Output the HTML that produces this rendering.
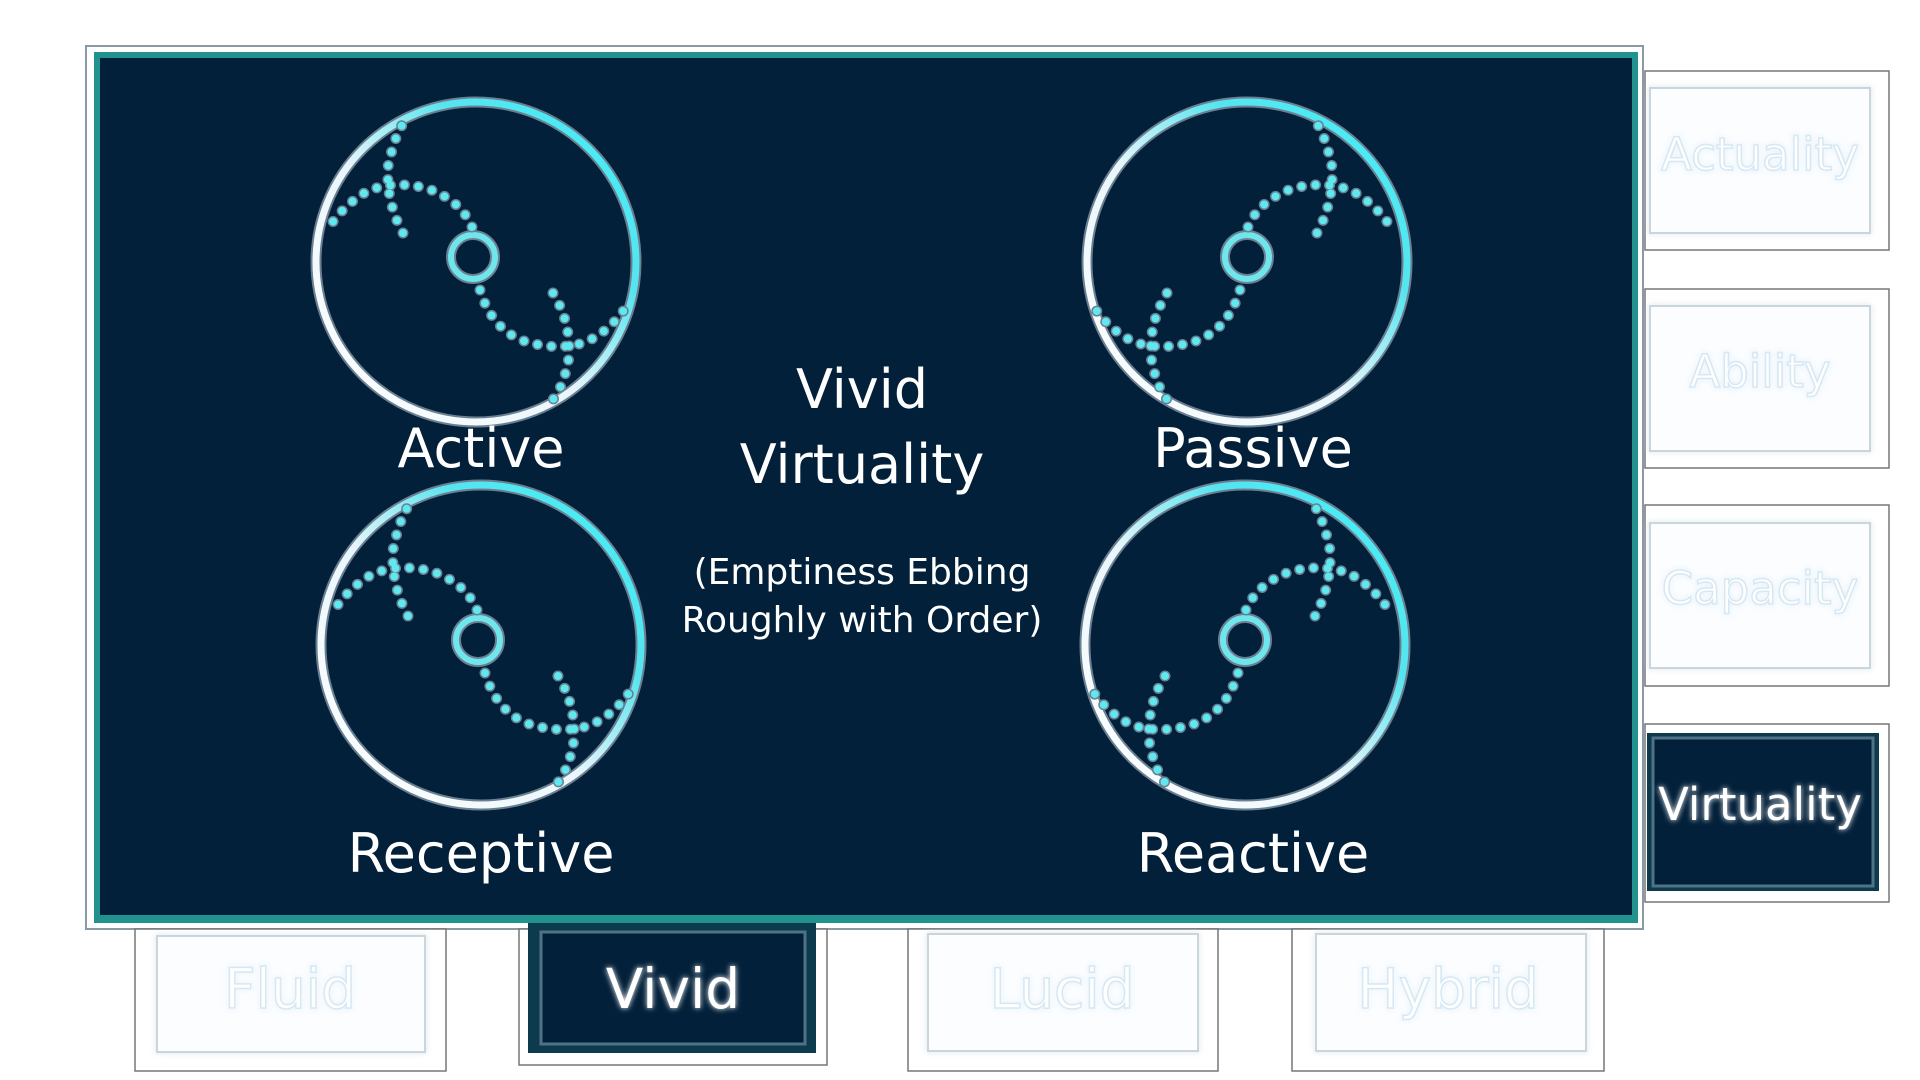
<!DOCTYPE html>
<html><head><meta charset="utf-8"><style>
html,body{margin:0;padding:0;background:#fff;width:1920px;height:1080px;overflow:hidden}
svg{display:block}
text{font-family:"DejaVu Sans","Liberation Sans",sans-serif}
</style></head><body>
<svg width="1920" height="1080" viewBox="0 0 1920 1080" xmlns="http://www.w3.org/2000/svg">
<defs>
<linearGradient id="rg" x1="0" y1="1" x2="1" y2="0">
<stop offset="0" stop-color="#ffffff"/><stop offset="0.45" stop-color="#e8f6fb"/><stop offset="0.7" stop-color="#57e4ef"/><stop offset="1" stop-color="#40f0f8"/>
</linearGradient>
<filter id="glow" x="-20%" y="-20%" width="140%" height="140%"><feGaussianBlur stdDeviation="3" result="b"/><feMerge><feMergeNode in="b"/><feMergeNode in="SourceGraphic"/></feMerge></filter>
<g id="ring">
<circle r="160" fill="none" stroke="#6b7f90" stroke-width="11"/>
<circle r="160" fill="none" stroke="url(#rg)" stroke-width="7"/>
</g>
<g id="dots">
<circle cx="-3" cy="-5" r="22" fill="none" stroke="#6b7f90" stroke-width="10"/>
<circle cx="-3" cy="-5" r="22" fill="none" stroke="#6fe6ec" stroke-width="6"/>
<g fill="none" stroke-linecap="round" stroke-dasharray="0 14">
<g stroke="#6b7f90" stroke-width="11">
<path d="M-4,-35 Q-15,-62 -50,-74 Q-85,-82 -110,-70 Q-135,-55 -150,-30"/>
<path d="M-73,-29 Q-90,-60 -88,-95 Q-82,-125 -72,-140"/>
<path d="M4,28 Q15,65 45,78 Q80,90 110,80 Q135,68 150,45"/>
<path d="M77,31 Q95,60 93,95 Q88,125 75,140"/>
</g>
<g stroke="#5ee8f0" stroke-width="8">
<path d="M-4,-35 Q-15,-62 -50,-74 Q-85,-82 -110,-70 Q-135,-55 -150,-30"/>
<path d="M-73,-29 Q-90,-60 -88,-95 Q-82,-125 -72,-140"/>
<path d="M4,28 Q15,65 45,78 Q80,90 110,80 Q135,68 150,45"/>
<path d="M77,31 Q95,60 93,95 Q88,125 75,140"/>
</g>
</g>
</g>
</defs>

<!-- main panel -->
<rect x="86" y="46" width="1557" height="883" fill="#fff" stroke="#8a9aa4" stroke-width="2"/>
<rect x="94" y="52" width="1544" height="871" fill="#22928e"/>
<rect x="100" y="58" width="1532" height="857" fill="#02203a"/>

<use href="#ring" transform="translate(476,262)"/>
<use href="#dots" transform="translate(476,262)"/>
<use href="#ring" transform="translate(1247,262)"/>
<use href="#dots" transform="translate(1244,262) scale(-1,1)"/>
<use href="#ring" transform="translate(481,645)"/>
<use href="#dots" transform="translate(481,645)"/>
<use href="#ring" transform="translate(1245,645)"/>
<use href="#dots" transform="translate(1242,645) scale(-1,1)"/>

<g fill="#fff" text-anchor="middle" font-size="54">
<text x="481" y="467">Active</text>
<text x="1253" y="467">Passive</text>
<text x="481" y="872">Receptive</text>
<text x="1253" y="872">Reactive</text>
<text x="862" y="408">Vivid</text>
<text x="862" y="483">Virtuality</text>
<text x="862" y="584" font-size="36">(Emptiness Ebbing</text>
<text x="862" y="632" font-size="36">Roughly with Order)</text>
</g>

<!-- right tabs -->
<g stroke="#777" stroke-width="1.5" fill="#fff">
<rect x="1645" y="71" width="244" height="179"/>
<rect x="1645" y="289" width="244" height="179"/>
<rect x="1645" y="505" width="244" height="181"/>
<rect x="1645" y="724" width="244" height="178"/>
</g>
<g fill="#fbfdff" stroke="#c9d6de" stroke-width="2" filter="url(#glow)">
<rect x="1650" y="88" width="220" height="145"/>
<rect x="1650" y="306" width="220" height="145"/>
<rect x="1650" y="523" width="220" height="145"/>
</g>
<rect x="1647" y="733" width="232" height="158" fill="#0e3a4e"/>
<rect x="1653" y="738" width="220" height="148" fill="#02203a" stroke="#4f7385" stroke-width="3"/>
<g text-anchor="middle" font-size="45" fill="#fff" stroke="#d6e8f4" stroke-width="1.5" filter="url(#glow)">
<text x="1760" y="170">Actuality</text>
<text x="1760" y="387">Ability</text>
<text x="1760" y="604">Capacity</text>
</g>
<text x="1760" y="820" text-anchor="middle" font-size="45" fill="#fff" filter="url(#glow)">Virtuality</text>

<!-- bottom tabs -->
<g stroke="#777" stroke-width="1.5" fill="#fff">
<rect x="135" y="929" width="311" height="142"/>
<rect x="519" y="929" width="308" height="136"/>
<rect x="908" y="929" width="310" height="142"/>
<rect x="1292" y="929" width="312" height="142"/>
</g>
<g fill="#fbfdff" stroke="#c9d6de" stroke-width="2" filter="url(#glow)">
<rect x="157" y="936" width="268" height="116"/>
<rect x="928" y="934" width="270" height="117"/>
<rect x="1316" y="934" width="270" height="117"/>
</g>
<rect x="528" y="923" width="288" height="130" fill="#0e3a4e"/>
<rect x="541" y="932" width="264" height="112" fill="#02203a" stroke="#4f7385" stroke-width="3"/>
<g text-anchor="middle" font-size="55" fill="#fff" stroke="#d6e8f4" stroke-width="1.5" filter="url(#glow)">
<text x="290" y="1008">Fluid</text>
<text x="1062" y="1008">Lucid</text>
<text x="1448" y="1008">Hybrid</text>
</g>
<text x="673" y="1008" text-anchor="middle" font-size="55" fill="#fff" filter="url(#glow)">Vivid</text>
</svg>
</body></html>
